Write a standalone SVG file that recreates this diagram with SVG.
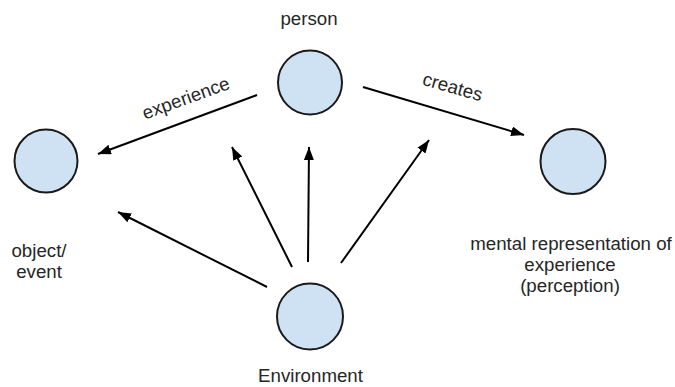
<svg xmlns="http://www.w3.org/2000/svg" width="675" height="387" viewBox="0 0 675 387">
<style>
.node{fill:#cfe2f3;stroke:#1a1a1a;stroke-width:2}
.lbl{font-family:"Liberation Sans",Arial,sans-serif;font-size:18.7px;fill:#262626;text-anchor:middle}
.edge{stroke:#000;stroke-width:2;fill:none}
</style>
<defs>
<marker id="ah" markerUnits="userSpaceOnUse" markerWidth="14" markerHeight="11" refX="13" refY="5" orient="auto">
<path d="M0,0 L13,5 L0,10 z" fill="#000"/>
</marker>
</defs>
<rect width="675" height="387" fill="#fff"/>
<g id="connectors">
<line class="edge" x1="257" y1="95" x2="98" y2="154" marker-end="url(#ah)"/>
<line class="edge" x1="363" y1="87" x2="524" y2="135" marker-end="url(#ah)"/>
<line class="edge" x1="267" y1="287" x2="118" y2="212" marker-end="url(#ah)"/>
<line class="edge" x1="292" y1="267" x2="232" y2="147" marker-end="url(#ah)"/>
<line class="edge" x1="308" y1="262" x2="309" y2="147" marker-end="url(#ah)"/>
<line class="edge" x1="341" y1="263" x2="429" y2="140" marker-end="url(#ah)"/>
<text class="lbl" transform="translate(188,104) rotate(-20)">experience</text>
<text class="lbl" transform="translate(451,93) rotate(16)">creates</text>
</g>
<g id="person">
<circle class="node" cx="310" cy="82.5" r="32"/>
<text class="lbl" x="309" y="25">person</text>
</g>
<g id="object-event">
<circle class="node" cx="46" cy="161" r="31.5"/>
<text class="lbl" x="39" y="257">object/</text>
<text class="lbl" x="39" y="278">event</text>
</g>
<g id="mental-representation">
<circle class="node" cx="573" cy="161.5" r="32.5"/>
<text class="lbl" x="571" y="250">mental representation of</text>
<text class="lbl" x="570" y="271">experience</text>
<text class="lbl" x="570" y="292">(perception)</text>
</g>
<g id="environment">
<circle class="node" cx="310" cy="316.5" r="33"/>
<text class="lbl" x="310.5" y="382">Environment</text>
</g>
</svg>
